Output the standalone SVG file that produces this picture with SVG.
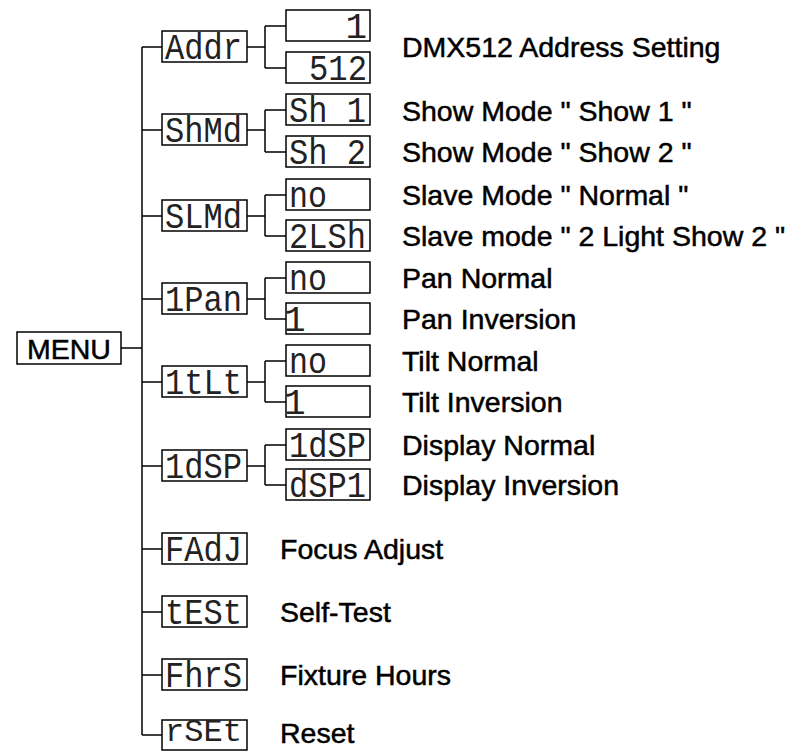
<svg xmlns="http://www.w3.org/2000/svg" width="804" height="751" viewBox="0 0 804 751">
<style>
.box{fill:#fff;stroke:#000;stroke-width:1.5}
.seg{font-family:"Liberation Mono","DejaVu Sans Mono",monospace;font-size:36px;fill:#222}
.lbl{font-family:"Liberation Sans",Arial,sans-serif;font-size:28.5px;fill:#000;stroke:#000;stroke-width:0.5}
.con{fill:none;stroke:#000;stroke-width:1.5}
</style>
<rect width="804" height="751" fill="#fff"/>
<g id="connectors">
<path class="con" d="M121,348 H142 M142,47 V735 M142,47 H162 M142,130 H162 M142,216 H162 M142,299 H162 M142,382 H162 M142,466 H162 M142,549 H162 M142,612 H162 M142,675 H162 M142,735 H162"/>
<path class="con" d="M247,47 H265 M265,26 V68 M265,26 H286 M265,68 H286"/>
<path class="con" d="M247,130 H265 M265,110 V152 M265,110 H286 M265,152 H286"/>
<path class="con" d="M247,216 H265 M265,195 V236 M265,195 H286 M265,236 H286"/>
<path class="con" d="M247,299 H265 M265,278 V319 M265,278 H286 M265,319 H286"/>
<path class="con" d="M247,382 H265 M265,361 V402 M265,361 H286 M265,402 H286"/>
<path class="con" d="M247,466 H265 M265,445 V485 M265,445 H286 M265,485 H286"/>
</g>
<g id="menu"><rect class="box" x="17" y="332" width="104" height="32"/><text class="lbl" x="27" y="359">MENU</text></g>
<g id="addr"><rect class="box" x="162" y="31" width="85" height="31"/><text class="seg" x="165" y="59" textLength="77" lengthAdjust="spacingAndGlyphs">Addr</text></g>
<g id="addr-1"><rect class="box" x="286" y="10" width="84" height="31"/><text class="seg" x="367" y="38" text-anchor="end">1</text></g>
<g id="addr-512"><rect class="box" x="286" y="52" width="84" height="31"/><text class="seg" x="367" y="80" text-anchor="end" textLength="58" lengthAdjust="spacingAndGlyphs">512</text></g>
<g id="addr-label"><text class="lbl" x="402" y="57">DMX512 Address Setting</text></g>
<g id="shmd"><rect class="box" x="162" y="114" width="85" height="31"/><text class="seg" x="165" y="142" textLength="77" lengthAdjust="spacingAndGlyphs">ShMd</text></g>
<g id="sh1"><rect class="box" x="286" y="94" width="84" height="31"/><text class="seg" x="289" y="122" textLength="77" lengthAdjust="spacingAndGlyphs">Sh 1</text><text class="lbl" x="402" y="121">Show Mode " Show 1 "</text></g>
<g id="sh2"><rect class="box" x="286" y="136" width="84" height="31"/><text class="seg" x="289" y="164" textLength="77" lengthAdjust="spacingAndGlyphs">Sh 2</text><text class="lbl" x="402" y="162">Show Mode " Show 2 "</text></g>
<g id="slmd"><rect class="box" x="162" y="200" width="85" height="31"/><text class="seg" x="165" y="228" textLength="77" lengthAdjust="spacingAndGlyphs">SLMd</text></g>
<g id="sl-no"><rect class="box" x="286" y="179" width="84" height="31"/><text class="seg" x="289" y="207" textLength="38" lengthAdjust="spacingAndGlyphs">no</text><text class="lbl" x="402" y="205">Slave Mode " Normal "</text></g>
<g id="sl-2lsh"><rect class="box" x="286" y="220" width="84" height="31"/><text class="seg" x="289" y="248" textLength="77" lengthAdjust="spacingAndGlyphs">2LSh</text><text class="lbl" x="402" y="246">Slave mode " 2 Light Show 2 "</text></g>
<g id="pan"><rect class="box" x="162" y="283" width="85" height="31"/><text class="seg" x="165" y="311" textLength="77" lengthAdjust="spacingAndGlyphs">1Pan</text></g>
<g id="pan-no"><rect class="box" x="286" y="262" width="84" height="31"/><text class="seg" x="289" y="290" textLength="38" lengthAdjust="spacingAndGlyphs">no</text><text class="lbl" x="402" y="288">Pan Normal</text></g>
<g id="pan-1"><rect class="box" x="286" y="303" width="84" height="31"/><text class="seg" x="284" y="331">1</text><text class="lbl" x="402" y="329">Pan Inversion</text></g>
<g id="tilt"><rect class="box" x="162" y="366" width="85" height="31"/><text class="seg" x="165" y="394" textLength="77" lengthAdjust="spacingAndGlyphs">1tLt</text></g>
<g id="tilt-no"><rect class="box" x="286" y="345" width="84" height="31"/><text class="seg" x="289" y="373" textLength="38" lengthAdjust="spacingAndGlyphs">no</text><text class="lbl" x="402" y="371">Tilt Normal</text></g>
<g id="tilt-1"><rect class="box" x="286" y="386" width="84" height="31"/><text class="seg" x="284" y="414">1</text><text class="lbl" x="402" y="412">Tilt Inversion</text></g>
<g id="dsp"><rect class="box" x="162" y="450" width="85" height="31"/><text class="seg" x="165" y="478" textLength="77" lengthAdjust="spacingAndGlyphs">1dSP</text></g>
<g id="dsp-n"><rect class="box" x="286" y="429" width="84" height="31"/><text class="seg" x="289" y="457" textLength="77" lengthAdjust="spacingAndGlyphs">1dSP</text><text class="lbl" x="402" y="455">Display Normal</text></g>
<g id="dsp-i"><rect class="box" x="286" y="469" width="84" height="31"/><text class="seg" x="289" y="497" textLength="77" lengthAdjust="spacingAndGlyphs">dSP1</text><text class="lbl" x="402" y="495">Display Inversion</text></g>
<g id="fadj"><rect class="box" x="162" y="533" width="85" height="31"/><text class="seg" x="165" y="561" textLength="77" lengthAdjust="spacingAndGlyphs">FAdJ</text><text class="lbl" x="280" y="559">Focus Adjust</text></g>
<g id="test"><rect class="box" x="162" y="596" width="85" height="31"/><text class="seg" x="165" y="624" textLength="77" lengthAdjust="spacingAndGlyphs">tESt</text><text class="lbl" x="280" y="622">Self-Test</text></g>
<g id="fhrs"><rect class="box" x="162" y="659" width="85" height="31"/><text class="seg" x="165" y="687" textLength="77" lengthAdjust="spacingAndGlyphs">FhrS</text><text class="lbl" x="280" y="685">Fixture Hours</text></g>
<g id="rset"><rect class="box" x="162" y="720" width="85" height="30"/><text class="seg" x="165" y="741" style="font-size:32px" textLength="77" lengthAdjust="spacingAndGlyphs">rSEt</text><text class="lbl" x="280" y="743">Reset</text></g>
</svg>
